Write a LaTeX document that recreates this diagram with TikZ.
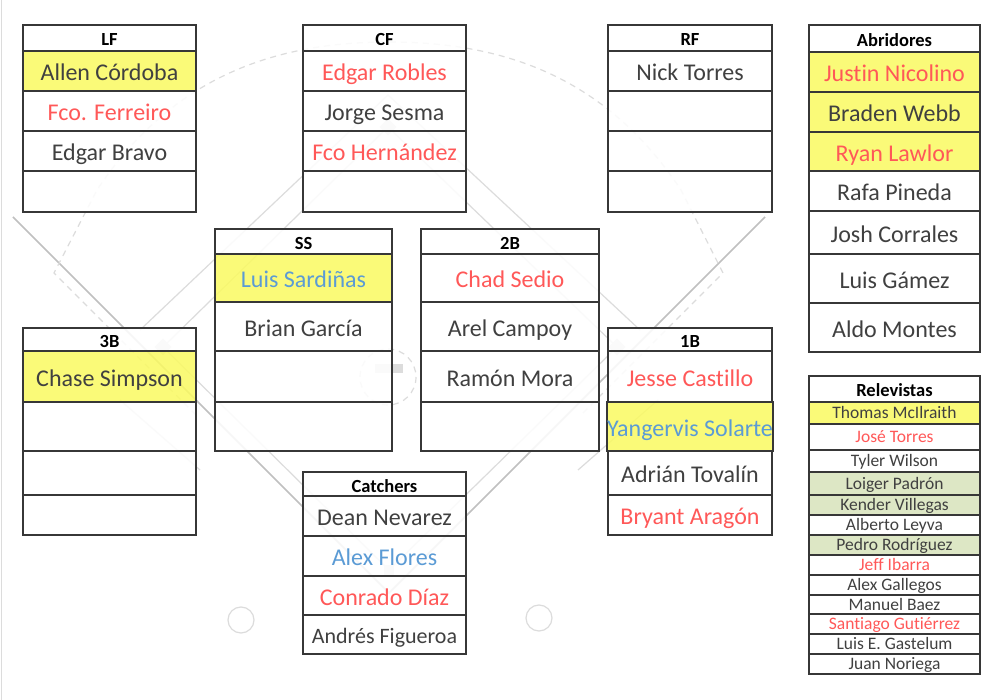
\documentclass[tikz,border=0pt]{standalone}
\usepackage{fontspec}
\setmainfont{Carlito}[Ligatures=NoCommon]
\definecolor{nm}{RGB}{64,64,64}
\definecolor{rd}{RGB}{255,88,88}
\definecolor{bl}{RGB}{91,155,213}
\definecolor{yl}{RGB}{250,250,98}
\definecolor{gn}{RGB}{216,228,188}
\definecolor{bd}{RGB}{55,55,55}
\definecolor{fld}{RGB}{192,192,192}
\definecolor{fldl}{RGB}{220,220,220}
\newcommand\cellbox[7]{%
  \node[cellst,#6,minimum width={(#4-#2)*1pt},minimum height={(#5-#3)*1pt}] (#1) at ({(#2+#4)/2},{(#3+#5)/2}) {#7};}
\tikzset{
  cellst/.style={draw=bd, line width=1.7pt, fill=white, fill opacity=0.86, text opacity=1, inner sep=0pt, outer sep=0pt, text depth=0pt, align=center},
  hdr/.style={font=\bfseries\fontsize{18.5}{18.5}\selectfont, text=black, text height=16pt},
  nme/.style={font=\fontsize{24}{24}\selectfont, text=nm, text height=19.2pt},
  nms/.style={font=\fontsize{22}{22}\selectfont, text=nm, text height=17.6pt},
  rlv/.style={font=\fontsize{17.5}{17.5}\selectfont, text=nm, text height=11.3pt},
  rdt/.style={text=rd},
  blt/.style={text=bl},
  yel/.style={fill=yl},
  grn/.style={fill=gn},
  fieldline/.style={draw=fld, line width=1.6pt},
  fieldthin/.style={draw=fldl, line width=1.2pt},
  fielddash/.style={draw=fldl, line width=1.2pt, dash pattern=on 6pt off 5pt},
}
\begin{document}
\begin{tikzpicture}[x=1pt,y=-1pt]
\useasboundingbox (0,0) rectangle (1004,700);
\fill[white] (0,0) rectangle (1004,700);
\draw[fldl, line width=1pt] (1,0) -- (1,700);
% ---- faint field in the background ----
\draw[fieldline] (13,217) -- (389,593) -- (765,217);
\draw[fielddash] (196,415) -- (54,273) -- (97,190) .. controls (170,80) and (270,42) .. (389,42)
   .. controls (508,42) and (608,80) .. (681,190) -- (723,273) -- (582,414);
\draw[fieldthin] (163,347) -- (388,127) -- (617,347) -- (389,570) -- cycle;
\draw[fieldthin] (140,330) -- (388,95) -- (640,330);
\draw[fieldthin] (120,400) -- (200,470);
\draw[fieldthin] (658,400) -- (578,470);
\fill[fldl, rotate around={45:(163,347)}] (157,341) rectangle (169,353);
\fill[fldl, rotate around={45:(617,347)}] (611,341) rectangle (623,353);
\fill[fldl, rotate around={45:(388,127)}] (382,121) rectangle (394,133);
\fill[fldl] (384,565) rectangle (394,575);
\draw[fielddash] (388,377) circle (28);
\fill[fldl] (375,364) rectangle (403,373);
\draw[fieldthin] (241,620) circle (13);
\draw[fieldthin] (539,618) circle (13);
% ---- LF ----
\cellbox{lfh}{23}{25}{196}{51}{hdr}{LF}
\cellbox{lfa}{23}{51}{196}{91}{nme,yel}{Allen Córdoba}
\cellbox{lfb}{23}{91}{196}{131}{nme,rdt}{Fco. Ferreiro}
\cellbox{lfc}{23}{131}{196}{171}{nme}{Edgar Bravo}
\cellbox{lfd}{23}{171}{196}{212}{nme}{}
% ---- CF ----
\cellbox{cfh}{303}{25}{466}{51}{hdr}{CF}
\cellbox{cfa}{303}{51}{466}{91}{nme,rdt}{Edgar Robles}
\cellbox{cfb}{303}{91}{466}{131}{nme}{Jorge Sesma}
\cellbox{cfc}{303}{131}{466}{171}{nme,rdt}{Fco Hernández}
\cellbox{cfd}{303}{171}{466}{212}{nme}{}
% ---- RF ----
\cellbox{rfh}{608}{25}{772}{51}{hdr}{RF}
\cellbox{rfa}{608}{51}{772}{91}{nme}{Nick Torres}
\cellbox{rfb}{608}{91}{772}{131}{nme}{}
\cellbox{rfc}{608}{131}{772}{171}{nme}{}
\cellbox{rfd}{608}{171}{772}{212}{nme}{}
% ---- Abridores ----
\cellbox{abh}{809}{25}{980}{52}{hdr}{Abridores}
\cellbox{aba}{809}{52}{980}{92}{nme,yel,rdt}{Justin Nicolino}
\cellbox{abb}{809}{92}{980}{132}{nme,yel}{Braden Webb}
\cellbox{abc}{809}{132}{980}{171}{nme,yel,rdt}{Ryan Lawlor}
\cellbox{abd}{809}{171}{980}{211}{nme}{Rafa Pineda}
\cellbox{abe}{809}{211}{980}{254}{nme}{Josh Corrales}
\cellbox{abf}{809}{254}{980}{303}{nme}{Luis Gámez}
\cellbox{abg}{809}{303}{980}{352}{nme}{Aldo Montes}
% ---- SS ----
\cellbox{ssh}{215}{229}{392}{254}{hdr}{SS}
\cellbox{ssa}{215}{254}{392}{302}{nme,yel,blt}{Luis Sardiñas}
\cellbox{ssb}{215}{302}{392}{351}{nme}{Brian García}
\cellbox{ssc}{215}{351}{392}{402}{nme}{}
\cellbox{ssd}{215}{402}{392}{451}{nme}{}
% ---- 2B ----
\cellbox{sbh}{421}{229}{599}{254}{hdr}{2B}
\cellbox{sba}{421}{254}{599}{302}{nme,rdt}{Chad Sedio}
\cellbox{sbb}{421}{302}{599}{351}{nme}{Arel Campoy}
\cellbox{sbc}{421}{351}{599}{402}{nme}{Ramón Mora}
\cellbox{sbd}{421}{402}{599}{451}{nme}{}
% ---- 3B ----
\cellbox{tbh}{23}{328}{196}{351}{hdr}{3B}
\cellbox{tba}{23}{351}{196}{402}{nme,yel}{Chase Simpson}
\cellbox{tbb}{23}{402}{196}{451}{nme}{}
\cellbox{tbc}{23}{451}{196}{495}{nme}{}
\cellbox{tbd}{23}{495}{196}{535}{nme}{}
% ---- 1B ----
\cellbox{fbh}{608}{328}{772}{351}{hdr}{1B}
\cellbox{fba}{608}{351}{772}{402}{nme,rdt}{Jesse Castillo}
\cellbox{fbb}{608}{402}{772}{451}{nme,yel,blt}{Yangervis Solarte}
\cellbox{fbc}{608}{451}{772}{495}{nme}{Adrián Tovalín}
\cellbox{fbd}{608}{495}{772}{535}{nme,rdt}{Bryant Aragón}
% ---- Catchers ----
\cellbox{cth}{303}{472}{466}{496}{hdr}{Catchers}
\cellbox{cta}{303}{496}{466}{536}{nme}{Dean Nevarez}
\cellbox{ctb}{303}{536}{466}{576}{nme,blt}{Alex Flores}
\cellbox{ctc}{303}{576}{466}{615}{nme,rdt}{Conrado Díaz}
\cellbox{ctd}{303}{615}{466}{654}{nms}{Andrés Figueroa}
% ---- Relevistas ----
\cellbox{rvh}{809}{376}{980}{402}{hdr}{Relevistas}
\cellbox{rva}{809}{402}{980}{424}{rlv,yel}{Thomas McIlraith}
\cellbox{rvb}{809}{424}{980}{450}{rlv,rdt}{José Torres}
\cellbox{rvc}{809}{450}{980}{472}{rlv}{Tyler Wilson}
\cellbox{rvd}{809}{472}{980}{495}{rlv,grn}{Loiger Padrón}
\cellbox{rve}{809}{495}{980}{515}{rlv,grn}{Kender Villegas}
\cellbox{rvf}{809}{515}{980}{535}{rlv}{Alberto Leyva}
\cellbox{rvg}{809}{535}{980}{555}{rlv,grn}{Pedro Rodríguez}
\cellbox{rvi}{809}{555}{980}{575}{rlv,rdt}{Jeff Ibarra}
\cellbox{rvj}{809}{575}{980}{595}{rlv}{Alex Gallegos}
\cellbox{rvk}{809}{595}{980}{614}{rlv}{Manuel Baez}
\cellbox{rvl}{809}{614}{980}{634}{rlv,rdt}{Santiago Gutiérrez}
\cellbox{rvm}{809}{634}{980}{654}{rlv}{Luis E. Gastelum}
\cellbox{rvn}{809}{654}{980}{674}{rlv}{Juan Noriega}
\end{tikzpicture}
\end{document}
